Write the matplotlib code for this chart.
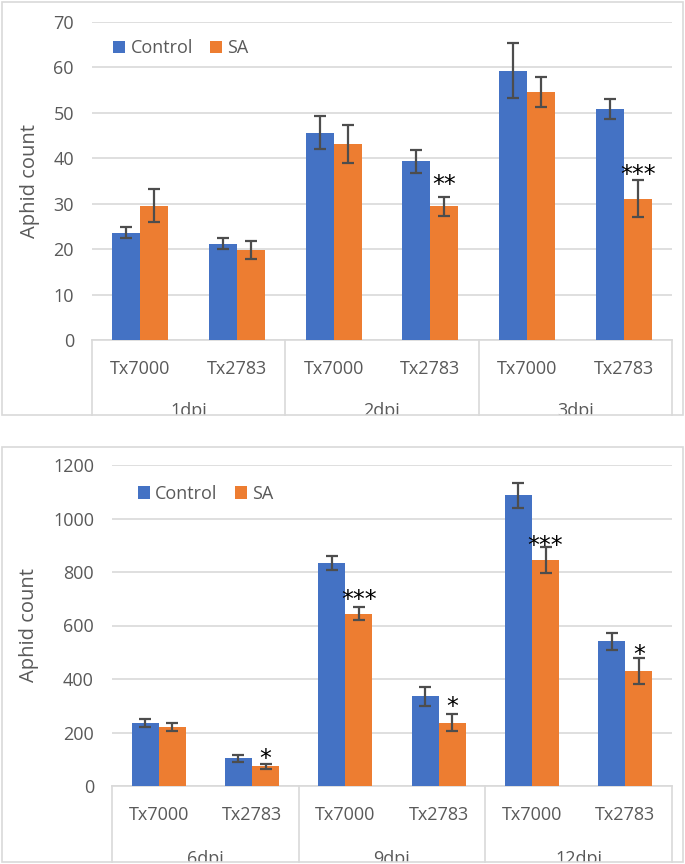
import matplotlib.pyplot as plt
from matplotlib.patches import Rectangle
from matplotlib.transforms import Bbox, TransformedBbox, blended_transform_factory

plt.rcParams['font.family'] = ['Open Sans', 'DejaVu Sans']

# ------------------------------------------------
#  Data
# ------------------------------------------------
cultivars = ["Tx7000", "Tx2783"]

early_days = ["1dpi", "2dpi", "3dpi"]
early_control = [23.6, 21.2, 45.6, 39.3, 59.3, 50.9]
early_control_err = [1.2, 1.25, 3.6, 2.55, 6.0, 2.15]
early_sa = [29.6, 19.8, 43.1, 29.4, 54.5, 31.1]
early_sa_err = [3.65, 2.05, 4.2, 2.05, 3.3, 4.1]
early_stars = ["", "", "", "**", "", "***"]
early_star_y = [0, 0, 0, 35.7, 0, 37.9]

late_days = ["6dpi", "9dpi", "12dpi"]
late_control = [236, 103, 833, 335, 1086, 541]
late_control_err = [15, 12, 27, 35, 45, 31]
late_sa = [220, 73, 644, 237, 845, 430]
late_sa_err = [16, 10, 25, 31, 49, 50]
late_stars = ["", "*", "***", "*", "***", "*"]
late_star_y = [0, 126, 722, 321, 924, 515]

# ------------------------------------------------
#  Style
# ------------------------------------------------
W, H = 685, 864
BLUE = "#4472C4"
ORANGE = "#ED7D31"
GRID = "#D9D9D9"
TXT = "#595959"
ERR = "#4D4D4D"
FS = 13
BAR_W = 0.29


def px_x(x):
    return x / W


def px_y(y):
    return 1 - y / H


def draw_panel(fig, rect_px, frame_px, control, control_err, sa, sa_err,
               stars, star_y, days, ymax, ystep, tick_base, group_base,
               legend_pos, ylabel_x):
    left, top, right, bottom = rect_px
    ax = fig.add_axes([px_x(left), px_y(bottom),
                       (right - left) / W, (bottom - top) / H])

    # outer chart frame
    fl, ft, fr, fb = frame_px
    fig.patches.append(Rectangle((px_x(fl), px_y(fb)), (fr - fl) / W,
                                 (fb - ft) / H, transform=fig.transFigure,
                                 fill=False, edgecolor=GRID, linewidth=1.2))

    n = len(control)
    x = list(range(n))
    xc = [i - BAR_W / 2 for i in x]
    xs = [i + BAR_W / 2 for i in x]

    err_kw = dict(ecolor=ERR, elinewidth=1.6, capsize=4, capthick=1.6)
    ax.bar(xc, control, BAR_W, yerr=control_err, color=BLUE, label="Control",
           error_kw=err_kw, zorder=3)
    ax.bar(xs, sa, BAR_W, yerr=sa_err, color=ORANGE, label="SA",
           error_kw=err_kw, zorder=3)

    for xi, s, yv in zip(xs, stars, star_y):
        if s:
            ax.annotate(s, (xi, yv), xytext=(0, -0.58 * 17),
                        textcoords="offset points", ha="center",
                        va="baseline", fontsize=17, color="black",
                        family="DejaVu Sans", zorder=5)

    ax.set_xlim(-0.5, n - 0.5)
    ax.set_ylim(0, ymax)
    ax.set_yticks(range(0, ymax + 1, ystep))
    ax.yaxis.grid(True, color=GRID, linewidth=1.2, zorder=0)
    ax.set_axisbelow(True)
    for sp in ["left", "right", "top"]:
        ax.spines[sp].set_visible(False)
    ax.spines["bottom"].set_color(GRID)
    ax.spines["bottom"].set_linewidth(1.2)
    ax.tick_params(axis="y", length=0, pad=13, labelsize=FS, labelcolor=TXT)
    ax.set_xticks([])

    ax.set_ylabel("Aphid count", fontsize=14.5, color=TXT, va="center")
    ax.yaxis.set_label_coords(ylabel_x, 0.5)

    # category box below the axis
    trans = blended_transform_factory(ax.transData, fig.transFigure)
    ax0 = px_y(bottom)
    for g in range(len(days) + 1):
        xv = g * 2 - 0.5
        ax.plot([xv, xv], [ax0, px_y(fb)], transform=trans, color=GRID,
                linewidth=1.2, clip_on=False)
    for i in x:
        ax.text(i, px_y(tick_base), cultivars[i % 2], transform=trans,
                ha="center", va="baseline", fontsize=FS, color=TXT)
    clip = TransformedBbox(Bbox([[px_x(fl), px_y(fb)], [px_x(fr), px_y(ft)]]),
                           fig.transFigure)
    for g, d in enumerate(days):
        t = ax.text(g * 2 + 0.5, px_y(group_base), d, transform=trans,
                    ha="center", va="baseline", fontsize=FS, color=TXT)
        t.set_clip_on(True)
        t.set_clip_path(None)
        t.set_clip_box(clip)

    lx, ly = legend_pos
    ax.legend(loc="center left", bbox_to_anchor=(lx, ly), ncol=2,
              frameon=False, fontsize=FS, handlelength=0.67,
              handleheight=0.67, handletextpad=0.3, columnspacing=0.95,
              borderpad=0, borderaxespad=0, labelcolor=TXT)
    return ax


fig = plt.figure(figsize=(W / 100, H / 100), dpi=100)

draw_panel(fig, (92, 22, 672, 340), (2, 2, 683, 415),
           early_control, early_control_err, early_sa, early_sa_err,
           early_stars, early_star_y, early_days, 70, 10,
           tick_base=374, group_base=416, legend_pos=(0.036, 0.918),
           ylabel_x=-0.107)

draw_panel(fig, (112, 465, 672, 786), (2, 447, 683, 862),
           late_control, late_control_err, late_sa, late_sa_err,
           late_stars, late_star_y, late_days, 1200, 200,
           tick_base=820, group_base=864, legend_pos=(0.046, 0.91),
           ylabel_x=-0.148)

fig.savefig("out.png", dpi=100)
